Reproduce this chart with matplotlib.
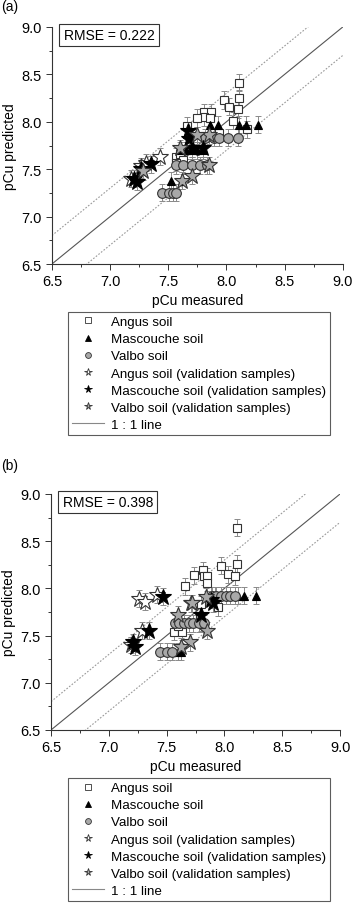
import matplotlib
matplotlib.use("Agg")
from matplotlib import pyplot as plt
from matplotlib.lines import Line2D
import numpy as np

plt.rcParams['font.family'] = ['Liberation Sans', 'DejaVu Sans']

# Datos panel (a)
angus_a_x = [8.11, 8.11, 7.98, 8.02, 8.10, 8.06, 7.81, 7.87, 7.81, 7.75, 7.86, 7.66, 8.18, 7.94, 7.57, 7.60, 7.63, 7.57, 7.65]
angus_a_y = [8.41, 8.25, 8.23, 8.16, 8.13, 8.01, 8.10, 8.10, 8.05, 8.04, 8.04, 7.96, 7.92, 7.88, 7.63, 7.66, 7.60, 7.57, 7.70]
masc_a_x = [8.27, 8.17, 8.11, 7.93, 7.86, 7.60, 7.65, 7.70, 7.75, 7.80, 7.52, 7.62]
masc_a_y = [7.97, 7.97, 7.97, 7.97, 7.97, 7.70, 7.70, 7.70, 7.70, 7.70, 7.38, 7.38]
valbo_a_x = [7.82, 7.89, 7.94, 8.01, 8.10, 7.57, 7.63, 7.70, 7.77, 7.83, 7.45, 7.51, 7.54, 7.57]
valbo_a_y = [7.83, 7.83, 7.83, 7.83, 7.83, 7.54, 7.54, 7.54, 7.54, 7.54, 7.25, 7.25, 7.25, 7.25]
angus_v_a_x = [7.18, 7.27, 7.31, 7.43]
angus_v_a_y = [7.40, 7.53, 7.57, 7.63]
masc_v_a_x = [7.21, 7.23, 7.35, 7.67, 7.68, 7.70, 7.80, 7.27]
masc_v_a_y = [7.40, 7.37, 7.55, 7.90, 7.82, 7.72, 7.72, 7.50]
valbo_v_a_x = [7.85, 7.70, 7.62, 7.60, 7.85, 7.28, 7.75]
valbo_v_a_y = [7.54, 7.43, 7.38, 7.72, 7.86, 7.48, 7.86]

# Datos panel (b)
angus_b_x = [8.11, 7.97, 8.03, 8.11, 8.09, 7.66, 7.74, 7.81, 7.82, 7.85, 7.85, 7.94, 7.80, 7.56, 7.63, 7.79, 7.60]
angus_b_y = [8.64, 8.24, 8.15, 8.26, 8.13, 8.02, 8.14, 8.19, 8.13, 8.13, 8.06, 7.80, 7.83, 7.54, 7.54, 7.71, 7.60]
masc_b_x = [8.27, 8.17, 8.12, 7.92, 7.88, 7.62, 7.60, 7.80]
masc_b_y = [7.92, 7.92, 7.92, 7.92, 7.92, 7.33, 7.33, 7.64]
valbo_b_x = [7.89, 7.93, 7.97, 8.01, 8.05, 8.09, 7.57, 7.61, 7.65, 7.69, 7.73, 7.78, 7.82, 7.44, 7.50, 7.55]
valbo_b_y = [7.92, 7.92, 7.92, 7.92, 7.92, 7.92, 7.63, 7.63, 7.63, 7.63, 7.63, 7.63, 7.63, 7.33, 7.33, 7.33]
angus_v_b_x = [7.26, 7.31, 7.42, 7.29, 7.19, 7.71]
angus_v_b_y = [7.89, 7.86, 7.93, 7.55, 7.40, 7.84]
masc_v_b_x = [7.47, 7.35, 7.21, 7.23, 7.90, 7.80, 7.88]
masc_v_b_y = [7.91, 7.55, 7.43, 7.38, 7.84, 7.72, 7.88]
valbo_v_b_x = [7.85, 7.70, 7.62, 7.60, 7.84, 7.72]
valbo_v_b_y = [7.55, 7.43, 7.38, 7.72, 7.91, 7.84]

rmse = ["0.222", "0.398"]
etiquetas = ["Angus soil", "Mascouche soil", "Valbo soil",
             "Angus soil (validation samples)",
             "Mascouche soil (validation samples)",
             "Valbo soil (validation samples)", "1 : 1 line"]

err = 0.09
err_color = "#8a8a8a"
edge = "#333333"
estilos = [
    dict(marker="s", mfc="white", mec=edge, ms=6),
    dict(marker="^", mfc="black", mec="black", ms=6),
    dict(marker="o", mfc="#a8a8a8", mec=edge, ms=7),
    dict(marker="*", mfc="white", mec=edge, ms=12),
    dict(marker="*", mfc="black", mec="black", ms=12),
    dict(marker="*", mfc="#a8a8a8", mec=edge, ms=12),
]
tam_leyenda = [3.8, 4.2, 4.2, 5.5, 5.5, 5.5]

fig = plt.figure(figsize=(3.53, 9.12), dpi=100)
ax_a = fig.add_axes([0.147, 0.7094, 0.824, 0.2599])
ax_b = fig.add_axes([0.1445, 0.1985, 0.819, 0.2588])

paneles = [
    (ax_a, [(angus_a_x, angus_a_y), (masc_a_x, masc_a_y), (valbo_a_x, valbo_a_y),
            (angus_v_a_x, angus_v_a_y), (masc_v_a_x, masc_v_a_y), (valbo_v_a_x, valbo_v_a_y)]),
    (ax_b, [(angus_b_x, angus_b_y), (masc_b_x, masc_b_y), (valbo_b_x, valbo_b_y),
            (angus_v_b_x, angus_v_b_y), (masc_v_b_x, masc_v_b_y), (valbo_v_b_x, valbo_v_b_y)]),
]

for i, (ax, series) in enumerate(paneles):
    lim = np.array([6.5, 9.0])
    ax.plot(lim, lim, color="#555555", lw=0.8, zorder=1)
    ax.plot(lim, lim + 0.3, color="#999999", lw=0.8, ls=(0, (1.5, 1.5)), zorder=1)
    ax.plot(lim, lim - 0.3, color="#999999", lw=0.8, ls=(0, (1.5, 1.5)), zorder=1)
    for (x, y), st in zip(series, estilos):
        ax.errorbar(x, y, yerr=err, fmt="none", ecolor=err_color, elinewidth=0.7,
                    capsize=2.2, capthick=0.7, zorder=2)
    for (x, y), st in zip(series, estilos):
        ax.plot(x, y, ls="none", mew=0.8, zorder=3, **st)
    ax.set_xlim(6.5, 9.0)
    ax.set_ylim(6.5, 9.0)
    ax.set_xticks(np.arange(6.5, 9.01, 0.5))
    ax.set_yticks(np.arange(6.5, 9.01, 0.5))
    ax.set_xticks(np.arange(6.75, 9.0, 0.5), minor=True)
    ax.set_yticks(np.arange(6.75, 9.0, 0.5), minor=True)
    ax.xaxis.set_major_formatter(matplotlib.ticker.FormatStrFormatter("%.1f"))
    ax.yaxis.set_major_formatter(matplotlib.ticker.FormatStrFormatter("%.1f"))
    ax.spines["top"].set_visible(False)
    ax.spines["right"].set_visible(False)
    for s in ["left", "bottom"]:
        ax.spines[s].set_color("#333333")
        ax.spines[s].set_linewidth(0.8)
    ax.tick_params(which="major", length=4, width=0.7, color="#333333", labelsize=10.5)
    ax.tick_params(which="minor", length=2.5, width=0.7, color="#333333")
    ax.set_xlabel("pCu measured", fontsize=10, labelpad=3)
    ax.set_ylabel("pCu predicted", fontsize=10, labelpad=3)
    ax.text(0.04, 0.995, "RMSE = " + rmse[i], transform=ax.transAxes, ha="left", va="top",
            fontsize=10, bbox=dict(boxstyle="square,pad=0.3", fc="white", ec="#333333", lw=0.8))

# Leyendas
handles = [Line2D([], [], ls="none", mew=0.6, **dict(st, ms=t)) for st, t in zip(estilos, tam_leyenda)]
handles.append(Line2D([], [], color="#888888", lw=0.8))
for top in [0.657, 0.146]:
    leg = fig.legend(handles, etiquetas, loc="upper left", bbox_to_anchor=(0.193, top),
                     fontsize=9.6, frameon=True, fancybox=False, edgecolor="#333333",
                     handlelength=2.4, handletextpad=0.5, labelspacing=0.36,
                     borderpad=0.3, borderaxespad=0)
    leg.get_frame().set_linewidth(0.8)

fig.text(0.003, 0.992, "(a)", fontsize=10, va="center")
fig.text(0.003, 0.489, "(b)", fontsize=10, va="center")

fig.savefig("out.png", dpi=100)
